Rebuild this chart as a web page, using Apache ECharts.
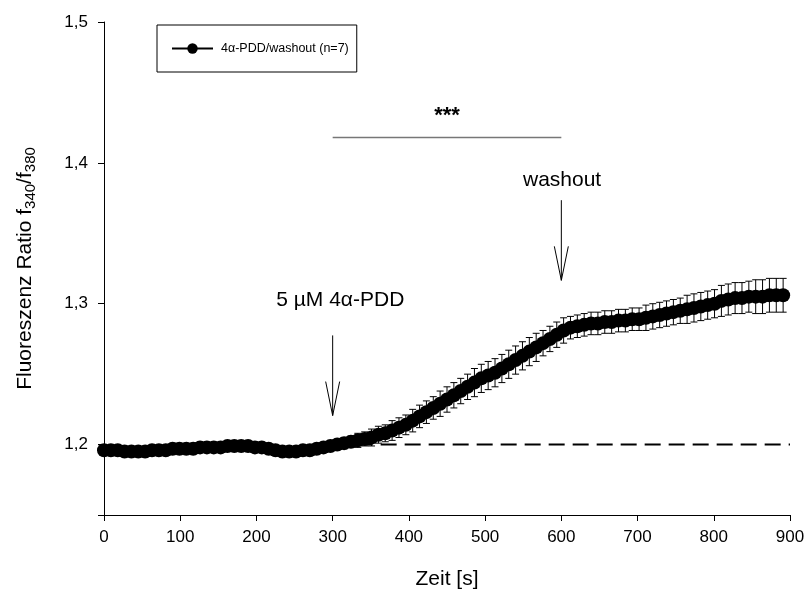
<!DOCTYPE html>
<html>
<head>
<meta charset="utf-8">
<title>4α-PDD washout</title>
<script src="https://cdn.jsdelivr.net/npm/echarts@6/dist/echarts.min.js"></script>
<style>
  html, body { margin: 0; padding: 0; background: #fff; }
  #chart { width: 808px; height: 597px; }
</style>
</head>
<body>
<div id="chart"></div>
<script>
// time points [s], sampled every 9 s
const times = [
  0, 9, 18, 27, 36, 45, 54, 63, 72, 81,
  90, 99, 108, 117, 126, 135, 144, 153, 162, 171,
  180, 189, 198, 207, 216, 225, 234, 243, 252, 261,
  270, 279, 288, 297, 306, 315, 324, 333, 342, 351,
  360, 369, 378, 387, 396, 405, 414, 423, 432, 441,
  450, 459, 468, 477, 486, 495, 504, 513, 522, 531,
  540, 549, 558, 567, 576, 585, 594, 603, 612, 621,
  630, 639, 648, 657, 666, 675, 684, 693, 702, 711,
  720, 729, 738, 747, 756, 765, 774, 783, 792, 801,
  810, 819, 828, 837, 846, 855, 864, 873, 882, 891
];
// mean ratio f340/f380
const meanRatio = [
  1.196, 1.196, 1.196, 1.195, 1.195, 1.195, 1.195, 1.196, 1.196, 1.196,
  1.197, 1.197, 1.197, 1.197, 1.198, 1.198, 1.198, 1.198, 1.199, 1.199,
  1.199, 1.199, 1.198, 1.198, 1.197, 1.196, 1.195, 1.195, 1.195, 1.196,
  1.196, 1.197, 1.198, 1.199, 1.200, 1.201, 1.202, 1.203, 1.204, 1.205,
  1.207, 1.208, 1.210, 1.212, 1.214, 1.217, 1.220, 1.223, 1.226, 1.229,
  1.232, 1.235, 1.238, 1.241, 1.244, 1.247, 1.249, 1.251, 1.254, 1.257,
  1.260, 1.263, 1.266, 1.269, 1.272, 1.275, 1.278, 1.281, 1.283, 1.284,
  1.285, 1.286, 1.286, 1.287, 1.287, 1.288, 1.288, 1.289, 1.289, 1.290,
  1.291, 1.292, 1.293, 1.294, 1.295, 1.296, 1.297, 1.298, 1.299, 1.300,
  1.302, 1.303, 1.304, 1.304, 1.305, 1.305, 1.305, 1.306, 1.306, 1.306
];
// standard error of the mean
const sem = [
  0.002, 0.002, 0.002, 0.002, 0.002, 0.002, 0.002, 0.002, 0.002, 0.002,
  0.002, 0.002, 0.002, 0.002, 0.002, 0.002, 0.002, 0.002, 0.002, 0.002,
  0.002, 0.002, 0.002, 0.002, 0.002, 0.002, 0.002, 0.002, 0.002, 0.002,
  0.002, 0.003, 0.003, 0.003, 0.003, 0.004, 0.004, 0.005, 0.005, 0.006,
  0.006, 0.006, 0.007, 0.007, 0.007, 0.008, 0.008, 0.008, 0.008, 0.009,
  0.009, 0.009, 0.009, 0.009, 0.010, 0.010, 0.010, 0.010, 0.010, 0.010,
  0.010, 0.010, 0.010, 0.010, 0.009, 0.009, 0.009, 0.009, 0.008, 0.008,
  0.008, 0.008, 0.008, 0.008, 0.008, 0.008, 0.008, 0.008, 0.008, 0.009,
  0.009, 0.009, 0.009, 0.009, 0.009, 0.010, 0.010, 0.010, 0.010, 0.010,
  0.011, 0.011, 0.011, 0.011, 0.011, 0.012, 0.012, 0.012, 0.012, 0.012
];

const seriesName = '4α-PDD/washout (n=7)';
const yTickValues = [1.15, 1.2, 1.3, 1.4, 1.5];
const yLabelValues = [1.2, 1.3, 1.4, 1.5];

// baseline (dashed)
const baselineX = [300, 900];
const baselineY = 1.2;

// stimulus arrows
const arrowX = [300, 600];
const arrowFrom = [1.2775, 1.3735];
const arrowTo = [1.2206, 1.3166];
const arrowTextX = [310, 601];
const arrowTextY = [1.3024, 1.3877];
const arrowText = ['5 µM 4α-PDD', 'washout'];

// significance bar
const sigX = [300, 600];
const sigY = 1.418;
const sigText = '***';
const sigTextY = 1.4335;

const FONT = '"Liberation Sans", Arial, sans-serif';

const points = times.map((t, i) => [t, meanRatio[i]]);
const errData = times.map((t, i) => [t, meanRatio[i] - sem[i], meanRatio[i] + sem[i]]);
const arrowData = arrowX.map((x, i) => [x, arrowFrom[i], arrowTo[i]]);
const labelData = arrowTextX.map((x, i) => [x, arrowTextY[i], arrowText[i]]);

const fmt = v => v.toFixed(1).replace('.', ',');

const chart = echarts.init(document.getElementById('chart'), null, { renderer: 'canvas' });

const option = {
  animation: false,
  backgroundColor: '#fff',
  textStyle: { fontFamily: FONT },
  grid: { left: 104, right: 18, top: 22, bottom: 82 },
  legend: {
    data: [seriesName],
    left: 157,
    top: 25,
    orient: 'vertical',
    borderColor: '#000',
    borderWidth: 1,
    padding: [17, 8, 17, 14],
    itemWidth: 41,
    itemHeight: 13,
    itemGap: 0,
    textStyle: { fontFamily: FONT, fontSize: 12.5, color: '#000', padding: [0, 0, 0, 3] }
  },
  xAxis: {
    type: 'value',
    min: 0,
    max: 900,
    interval: 100,
    name: 'Zeit [s]',
    nameLocation: 'middle',
    nameGap: 54,
    nameTextStyle: { fontFamily: FONT, fontSize: 21, color: '#000' },
    axisLine: { lineStyle: { color: '#000', width: 1 } },
    axisTick: { inside: false, length: 6, lineStyle: { color: '#000' } },
    axisLabel: { margin: 14, fontFamily: FONT, fontSize: 17, color: '#000' },
    splitLine: { show: false }
  },
  yAxis: {
    type: 'value',
    min: 1.15,
    max: 1.5,
    name: '{a|Fluoreszenz Ratio f}{s|340}{a|/f}{s|380}',
    nameLocation: 'middle',
    nameGap: 66,
    nameRotate: 90,
    nameTextStyle: {
      fontFamily: FONT,
      color: '#000',
      rich: {
        a: { fontFamily: FONT, fontSize: 21, color: '#000' },
        s: { fontFamily: FONT, fontSize: 15, color: '#000', padding: [10, 0, 0, 0] }
      }
    },
    axisLine: { show: true, lineStyle: { color: '#000', width: 1 } },
    axisTick: { show: true, inside: false, length: 6, customValues: yTickValues, lineStyle: { color: '#000' } },
    axisLabel: { margin: 16, fontFamily: FONT, fontSize: 17, color: '#000', customValues: yLabelValues, formatter: fmt },
    splitLine: { show: false }
  },
  series: [
    {
      name: 'baseline',
      type: 'line',
      data: baselineX.map(x => [x, baselineY]),
      symbol: 'none',
      lineStyle: { color: '#000', width: 2, type: [16, 8] },
      z: 1,
      silent: true
    },
    {
      name: 'sem',
      type: 'custom',
      data: errData,
      z: 2,
      silent: true,
      renderItem: (params, api) => {
        const lo = api.coord([api.value(0), api.value(1)]);
        const hi = api.coord([api.value(0), api.value(2)]);
        const c = 3.5;
        const style = { stroke: '#000', lineWidth: 1, fill: null };
        return {
          type: 'group',
          children: [
            { type: 'line', shape: { x1: lo[0], y1: lo[1], x2: hi[0], y2: hi[1] }, style },
            { type: 'line', shape: { x1: hi[0] - c, y1: hi[1], x2: hi[0] + c, y2: hi[1] }, style },
            { type: 'line', shape: { x1: lo[0] - c, y1: lo[1], x2: lo[0] + c, y2: lo[1] }, style }
          ]
        };
      }
    },
    {
      name: seriesName,
      type: 'line',
      data: points,
      symbol: 'circle',
      symbolSize: 14,
      itemStyle: { color: '#000' },
      lineStyle: { color: '#000', width: 1 },
      z: 3
    },
    {
      name: 'arrows',
      type: 'custom',
      data: arrowData,
      z: 4,
      silent: true,
      renderItem: (params, api) => {
        const top = api.coord([api.value(0), api.value(1)]);
        const tip = api.coord([api.value(0), api.value(2)]);
        const hw = 7, hh = 34;
        const style = { stroke: '#000', lineWidth: 1, fill: 'none' };
        return {
          type: 'group',
          children: [
            { type: 'line', shape: { x1: top[0], y1: top[1], x2: tip[0], y2: tip[1] }, style },
            { type: 'line', shape: { x1: tip[0] - hw, y1: tip[1] - hh, x2: tip[0], y2: tip[1] }, style },
            { type: 'line', shape: { x1: tip[0] + hw, y1: tip[1] - hh, x2: tip[0], y2: tip[1] }, style }
          ]
        };
      }
    },
    {
      name: 'arrowLabels',
      type: 'custom',
      data: labelData,
      z: 4,
      silent: true,
      renderItem: (params, api) => {
        const p = api.coord([api.value(0), api.value(1)]);
        return {
          type: 'text',
          x: p[0], y: p[1],
          style: {
            text: labelData[params.dataIndex][2],
            fontFamily: FONT, fontSize: 21, fill: '#000',
            align: 'center', verticalAlign: 'middle'
          }
        };
      }
    },
    {
      name: 'significance',
      type: 'custom',
      data: [[sigX[0], sigX[1], sigY, sigTextY]],
      z: 4,
      silent: true,
      renderItem: (params, api) => {
        const a = api.coord([api.value(0), api.value(2)]);
        const b = api.coord([api.value(1), api.value(2)]);
        const t = api.coord([(api.value(0) + api.value(1)) / 2, api.value(3)]);
        return {
          type: 'group',
          children: [
            { type: 'line', shape: { x1: a[0], y1: a[1], x2: b[0], y2: b[1] }, style: { stroke: '#777', lineWidth: 1.5 } },
            { type: 'text', x: t[0], y: t[1], style: { text: sigText, fontFamily: FONT, fontSize: 22, fontWeight: 'bold', fill: '#000', align: 'center', verticalAlign: 'middle' } }
          ]
        };
      }
    }
  ]
};

chart.setOption(option);
</script>
</body>
</html>
